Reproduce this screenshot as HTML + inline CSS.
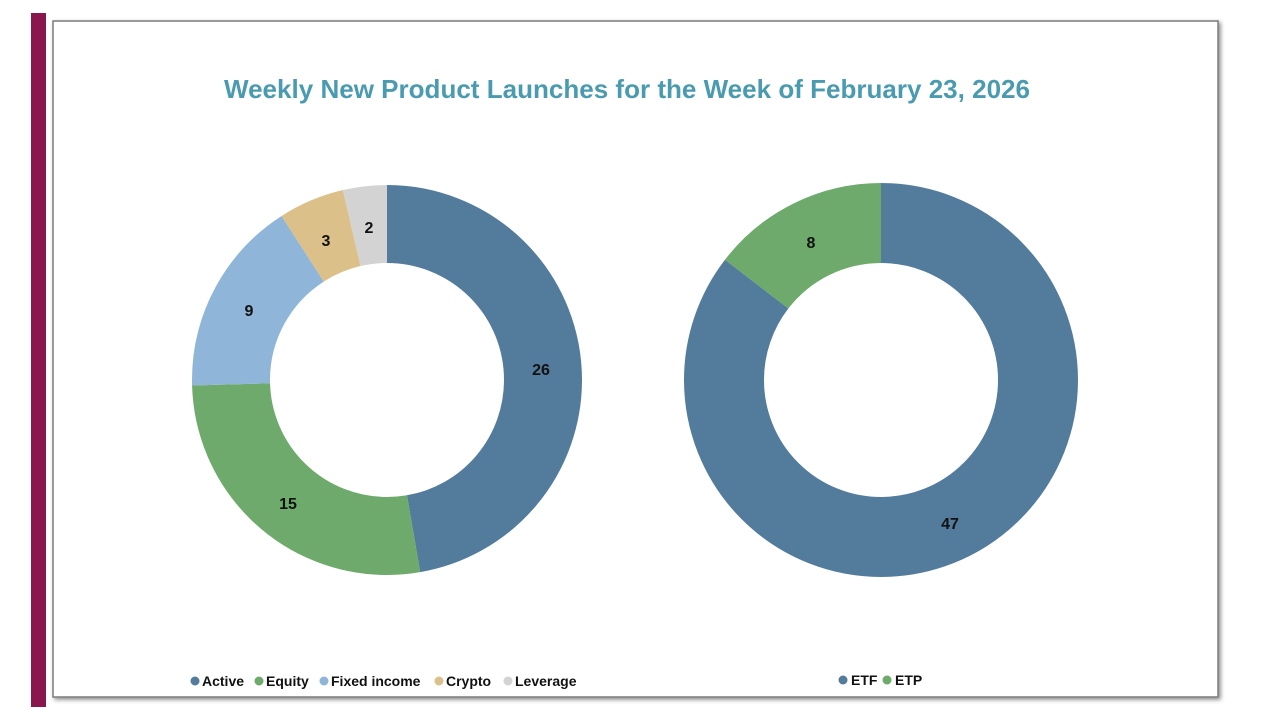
<!DOCTYPE html>
<html><head><meta charset="utf-8"><style>
html,body{margin:0;padding:0;background:#fff;width:1280px;height:720px;overflow:hidden}
svg{display:block}
</style></head><body>
<svg width="1280" height="720" viewBox="0 0 1280 720" xmlns="http://www.w3.org/2000/svg" font-family="Liberation Sans, sans-serif">
<defs><filter id="sh" x="-5%" y="-5%" width="110%" height="110%"><feDropShadow dx="2" dy="2" stdDeviation="2" flood-color="#000" flood-opacity="0.45"/></filter></defs>
<rect x="31" y="13" width="15" height="694" fill="#8a1650"/>
<rect x="53" y="21" width="1165" height="676" fill="#fff" stroke="#7a7a7a" stroke-width="1.5" filter="url(#sh)"/>
<text x="627" y="98" text-anchor="middle" font-size="26" font-weight="bold" fill="#4a9bb0" textLength="806" lengthAdjust="spacingAndGlyphs">Weekly New Product Launches for the Week of February 23, 2026</text>
<g transform="rotate(-90 387 380)" fill="none" stroke-width="78">
<circle cx="387" cy="380" r="156" pathLength="55" stroke="#537b9c" stroke-dasharray="26 100"/>
<circle cx="387" cy="380" r="156" pathLength="55" stroke="#6daa6b" stroke-dasharray="0 26 15 100"/>
<circle cx="387" cy="380" r="156" pathLength="55" stroke="#8fb5d8" stroke-dasharray="0 41 9 100"/>
<circle cx="387" cy="380" r="156" pathLength="55" stroke="#dcc08a" stroke-dasharray="0 50 3 100"/>
<circle cx="387" cy="380" r="156" pathLength="55" stroke="#d3d3d3" stroke-dasharray="0 53 2 100"/>
</g>
<g transform="rotate(-90 881 380)" fill="none" stroke-width="80">
<circle cx="881" cy="380" r="157" pathLength="55" stroke="#537b9c" stroke-dasharray="47 100"/>
<circle cx="881" cy="380" r="157" pathLength="55" stroke="#6daa6b" stroke-dasharray="0 47 8 100"/>
</g>
<g font-size="16" font-weight="bold" fill="#111" text-anchor="middle">
<text x="541" y="375">26</text><text x="288" y="509">15</text><text x="249" y="316">9</text>
<text x="326" y="246">3</text><text x="369" y="233">2</text>
<text x="811" y="248">8</text><text x="950" y="529">47</text>
</g>
<g font-size="14" font-weight="bold" fill="#111">
<circle cx="195" cy="681" r="4.5" fill="#537b9c"/><text x="202" y="686">Active</text>
<circle cx="259" cy="681" r="4.5" fill="#6daa6b"/><text x="266" y="686">Equity</text>
<circle cx="324" cy="681" r="4.5" fill="#8fb5d8"/><text x="331" y="686">Fixed income</text>
<circle cx="439" cy="681" r="4.5" fill="#dcc08a"/><text x="446" y="686">Crypto</text>
<circle cx="508" cy="681" r="4.5" fill="#d3d3d3"/><text x="515" y="686">Leverage</text>
<circle cx="843" cy="680" r="4.5" fill="#537b9c"/><text x="851" y="685">ETF</text>
<circle cx="887" cy="680" r="4.5" fill="#6daa6b"/><text x="895" y="685">ETP</text>
</g>
</svg>
</body></html>
